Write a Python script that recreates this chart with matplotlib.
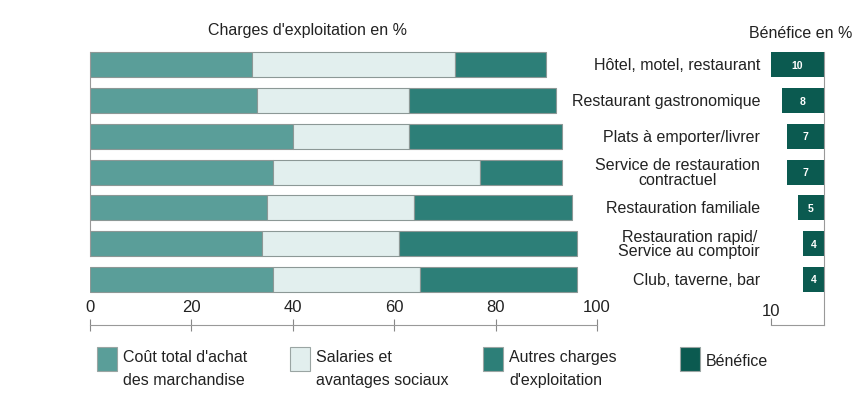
import matplotlib
matplotlib.use('Agg')
import matplotlib.pyplot as plt
from matplotlib.patches import Rectangle
import matplotlib.transforms as mtransforms

plt.rcParams['font.family'] = ['Liberation Sans', 'DejaVu Sans']

# Data
categories = ["Hôtel, motel, restaurant", "Restaurant gastronomique",
              "Plats à emporter/livrer", "Service de restauration\ncontractuel",
              "Restauration familiale", "Restauration rapid/\nService au comptoir",
              "Club, taverne, bar"]
cout_achat = [32, 33, 40, 36, 35, 34, 36]
salaires = [40, 30, 23, 41, 29, 27, 29]
autres = [18, 29, 30, 16, 31, 35, 31]
benefice = [10, 8, 7, 7, 5, 4, 4]
main_ticks = [0, 20, 40, 60, 80, 100]
profit_ticks = [10]
legend_labels = ["Coût total d'achat\ndes marchandise", "Salaries et\navantages sociaux",
                 "Autres charges\nd'exploitation", "Bénéfice"]

# Colours
c_achat = '#5a9e99'
c_sal = '#e2efee'
c_autres = '#2d7f78'
c_benef = '#0b5a50'
edge = '#8c9896'
txt = '#222222'
fs = 11.5

W, H = 865, 402
fig = plt.figure(figsize=(W / 100, H / 100), dpi=100)


def fx(px):
    return px / W


def fy(py):
    return 1 - py / H


row_h = 35.75
top_px = 48

# main stacked bars
ax = fig.add_axes([fx(90), fy(top_px + 7 * row_h), fx(597) - fx(90), 7 * row_h / H])
rows = list(range(len(categories)))
left3 = [a + s for a, s in zip(cout_achat, salaires)]
ax.barh(rows, cout_achat, height=0.7, color=c_achat, edgecolor=edge, linewidth=0.8)
ax.barh(rows, salaires, left=cout_achat, height=0.7, color=c_sal, edgecolor=edge, linewidth=0.8)
ax.barh(rows, autres, left=left3, height=0.7, color=c_autres, edgecolor=edge, linewidth=0.8)
ax.set_xlim(0, 100)
ax.set_ylim(6.5, -0.5)
for s in ['top', 'right', 'bottom']:
    ax.spines[s].set_visible(False)
ax.spines['left'].set_color('#999999')
ax.spines['left'].set_bounds(-0.35, 5.35)
ax.set_xticks([])
ax.set_yticks([])
ax.patch.set_alpha(0)

# category labels between the two charts
tr = mtransforms.blended_transform_factory(fig.transFigure, ax.transData)
for i, lab in enumerate(categories):
    ax.text(fx(760), i, lab, transform=tr, ha='right', va='center',
            multialignment='center', fontsize=fs, color=txt, linespacing=0.95)

# main scale under the bars
sax = fig.add_axes([fx(90), fy(326), fx(597) - fx(90), 0.0001])
sax.set_xlim(0, 100)
sax.xaxis.tick_top()
sax.set_xticks(main_ticks)
sax.tick_params(axis='x', direction='inout', length=8, width=0.8, color='#888888',
                labelsize=fs + 0.5, labelcolor=txt, pad=4)
sax.set_yticks([])
for s in ['bottom', 'left', 'right']:
    sax.spines[s].set_visible(False)
sax.spines['top'].set_color('#999999')
sax.patch.set_alpha(0)

# profit bars
pax = fig.add_axes([fx(771), fy(326), fx(824) - fx(771), (326 - top_px) / H])
pax.barh(rows, benefice, height=0.7, color=c_benef)
pax.set_xlim(10, 0)
pax.set_ylim((326 - top_px) / row_h - 0.5, -0.5)
for i, b in enumerate(benefice):
    pax.text(b / 2, i, str(b), ha='center', va='center', color='white',
             fontsize=7.5, fontweight='bold')
for s in ['top', 'left', 'bottom']:
    pax.spines[s].set_visible(False)
pax.spines['right'].set_color('#999999')
pax.spines['right'].set_bounds(-0.35, (326 - top_px) / row_h - 0.5)
pax.set_xticks([])
pax.set_yticks([])
pax.patch.set_alpha(0)

# profit scale
psax = fig.add_axes([fx(771), fy(326), fx(824) - fx(771), 0.0001])
psax.set_xlim(10, 0)
psax.xaxis.tick_top()
psax.set_xticks(profit_ticks)
psax.tick_params(axis='x', direction='out', length=5, width=0.8, color='#888888',
                 labelsize=fs + 0.5, labelcolor=txt, pad=0)
psax.set_yticks([])
for s in ['bottom', 'left', 'right']:
    psax.spines[s].set_visible(False)
psax.spines['top'].set_color('#999999')
psax.patch.set_alpha(0)

# titles
fig.text(fx(307), fy(30), "Charges d'exploitation en %", ha='center', va='center',
         fontsize=fs, color=txt)
fig.text(fx(852), fy(34), "Bénéfice en %", ha='right', va='center', fontsize=fs, color=txt)

# legend
leg_colors = [c_achat, c_sal, c_autres, c_benef]
leg_x = [97, 290, 483, 680]
for x0, col, lab in zip(leg_x, leg_colors, legend_labels):
    fig.patches.append(Rectangle((fx(x0), fy(372)), 20 / W, 24 / H, transform=fig.transFigure,
                                 facecolor=col, edgecolor='#9aa5a3', linewidth=0.8))
    ty = 369 if '\n' in lab else 362
    fig.text(fx(x0 + 26), fy(ty), lab, ha='left', va='center', fontsize=fs,
             color=txt, linespacing=1.6)

fig.savefig('out.png', dpi=100)
